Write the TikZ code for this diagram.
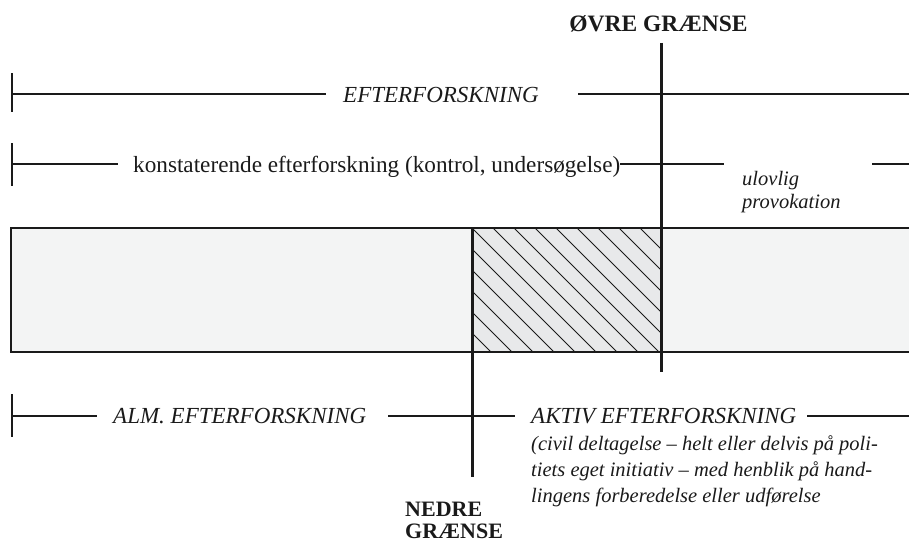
\documentclass[tikz,border=0pt]{standalone}
\usepackage{fontspec}
\setmainfont{Liberation Serif}
\definecolor{barfill}{HTML}{F3F4F4}
\definecolor{hatchfill}{HTML}{E8E9EA}
\definecolor{ink}{HTML}{1A1A1A}
\begin{document}
\begin{tikzpicture}[x=1pt,y=-1pt,
  rule/.style={line width=1.3pt, draw=ink},
  tick/.style={line width=1.3pt, draw=ink},
  bound/.style={line width=3pt, draw=ink},
  barline/.style={line width=2.2pt, draw=ink},
  hatchline/.style={line width=1pt, draw=ink},
  itlbl/.style={inner sep=0pt, anchor=base west, text=ink, font=\fontsize{23}{26}\selectfont\itshape},
  uplbl/.style={inner sep=0pt, anchor=base west, text=ink, font=\fontsize{23.2}{26}\selectfont},
  smlbl/.style={inner sep=0pt, anchor=base west, text=ink, font=\fontsize{20.5}{26}\selectfont\itshape},
  bdlbl/.style={inner sep=0pt, text=ink, font=\fontsize{23.5}{26}\selectfont\bfseries},
  bdsm/.style={inner sep=0pt, anchor=base west, text=ink, font=\fontsize{22}{26}\selectfont\bfseries},
  ]
\useasboundingbox (0,0) rectangle (909,543);

% bar
\fill[barfill] (11,228) rectangle (909,352);
\fill[hatchfill] (472,228) rectangle (661,352);
\begin{scope}
  \clip (472,228) rectangle (661,352);
  \foreach \k in {-6,...,9} \draw[hatchline] ({472+21*\k},228) -- ++(130,130);
\end{scope}
\draw[barline] (909,228) -- (11,228) -- (11,352) -- (909,352);

% boundaries
\coordinate (upTop) at (661,43);
\coordinate (upBot) at (661,372);
\coordinate (loTop) at (472,228);
\coordinate (loBot) at (472,477);
\draw[bound] (upTop) -- (upBot);
\draw[bound] (loTop) -- (loBot);

\node[bdlbl, anchor=base] (ovre) at (658.5,32) {ØVRE GRÆNSE};
\node[bdsm] (nedre1) at (405,516) {NEDRE};
\node[bdsm] (nedre2) at (405,538) {GRÆNSE};

% row 1
\node[itlbl] (ef) at (343,102) {EFTERFORSKNING};
\coordinate (r1a) at (12,94);
\coordinate (r1b) at (326,94);
\coordinate (r1c) at (578,94);
\coordinate (r1d) at (909,94);
\draw[tick] (12,73) -- (12,112);
\draw[rule] (r1a) -- (r1b);
\draw[rule] (r1c) -- (r1d);

% row 2
\node[uplbl] (kon) at (133,172) {konstaterende efterforskning (kontrol, undersøgelse)};
\coordinate (r2a) at (12,164);
\coordinate (r2b) at (118,164);
\coordinate (r2c) at (620,164);
\coordinate (r2d) at (724,164);
\coordinate (r2e) at (872,164);
\coordinate (r2f) at (909,164);
\draw[tick] (12,143) -- (12,186);
\draw[rule] (r2a) -- (r2b);
\draw[rule] (r2c) -- (r2d);
\draw[rule] (r2e) -- (r2f);
\node[smlbl] (ul1) at (742,185) {ulovlig};
\node[smlbl] (ul2) at (742,208) {provokation};

% row 3
\node[itlbl] (alm) at (113,423) {ALM. EFTERFORSKNING};
\node[itlbl] (akt) at (531,423) {AKTIV EFTERFORSKNING};
\coordinate (r3a) at (12,416);
\coordinate (r3b) at (97,416);
\coordinate (r3c) at (388,416);
\coordinate (r3d) at (515,416);
\coordinate (r3e) at (807,416);
\coordinate (r3f) at (909,416);
\draw[tick] (12,394) -- (12,437);
\draw[rule] (r3a) -- (r3b);
\draw[rule] (r3c) -- (r3d);
\draw[rule] (r3e) -- (r3f);

\node[smlbl] (p1) at (531,450) {(civil deltagelse – helt eller delvis på poli-};
\node[smlbl] (p2) at (531,476) {tiets eget initiativ – med henblik på hand-};
\node[smlbl] (p3) at (531,502) {lingens forberedelse eller udførelse};
\end{tikzpicture}
\end{document}
